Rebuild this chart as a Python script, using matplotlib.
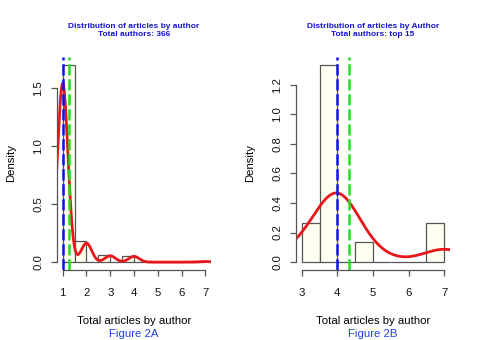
import numpy as np
import matplotlib
matplotlib.use("Agg")
import matplotlib.pyplot as plt

plt.rcParams['font.family'] = ['Liberation Sans', 'DejaVu Sans']

# articles per author -> number of authors
articles_a = [1, 2, 3, 4, 7]
authors_a = [311, 33, 11, 10, 1]
articles_b = [3, 4, 5, 7]
authors_b = [2, 10, 1, 2]

titles = ["Distribution of articles by author\nTotal authors: 366",
          "Distribution of articles by Author\nTotal authors: top 15"]
captions = ["Figure 2A", "Figure 2B"]
yticks_a = [0.0, 0.5, 1.0, 1.5]
yticks_b = [0.0, 0.2, 0.4, 0.6, 0.8, 1.0, 1.2]
bw_a, bw_b = 0.22, 0.615

AXIS_COL = "#555555"


def r_hist(vals, counts, width=0.5):
    # right-closed bins like R's hist()
    vals = np.asarray(vals, float)
    counts = np.asarray(counts, float)
    edges = np.arange(vals.min(), vals.max() + width / 2, width)
    idx = np.searchsorted(edges, vals, side="left") - 1
    idx = np.clip(idx, 0, len(edges) - 2)
    dens = np.zeros(len(edges) - 1)
    np.add.at(dens, idx, counts)
    dens /= counts.sum() * width
    return edges, dens


def kde(vals, counts, bw):
    vals = np.asarray(vals, float)
    w = np.asarray(counts, float) / np.sum(counts)
    xs = np.linspace(vals.min() - 3 * bw, vals.max() + 3 * bw, 512)
    z = (xs[:, None] - vals[None, :]) / bw
    ys = (np.exp(-0.5 * z ** 2) / (bw * np.sqrt(2 * np.pi)) * w).sum(axis=1)
    return xs, ys


def panel(ax, vals, counts, bw, title, caption, yticks):
    edges, dens = r_hist(vals, counts)
    ax.bar(edges[:-1], dens, width=0.5, align="edge", color="#fffff0",
           edgecolor=AXIS_COL, linewidth=0.9)
    xs, ys = kde(vals, counts, bw)
    ax.plot(xs, ys, color="#e8161b", lw=2.0)
    expanded = np.repeat(vals, counts)
    ax.axvline(np.median(expanded), color="#1010f0", lw=1.8, ls=(0, (4.5, 1.5)))
    ax.axvline(expanded.mean(), color="#20e020", lw=1.8, ls=(0, (4.5, 1.5)))

    lo, hi = min(vals), max(vals)
    pad = 0.04 * (hi - lo)
    ax.set_xlim(lo - pad, hi + pad)
    ymax = dens.max()
    ax.set_ylim(-0.04 * ymax, ymax * 1.04)

    for s in ("top", "right"):
        ax.spines[s].set_visible(False)
    for s in ("left", "bottom"):
        ax.spines[s].set_color(AXIS_COL)
        ax.spines[s].set_linewidth(0.9)
    ax.spines["bottom"].set_bounds(lo, hi)
    ax.spines["left"].set_bounds(yticks[0], yticks[-1])
    ax.set_xticks(range(int(lo), int(hi) + 1))
    ax.set_yticks(yticks)
    ax.set_yticklabels([f"{t:.1f}" for t in yticks], rotation=90, va="center")
    ax.tick_params(colors=AXIS_COL, labelcolor="#111111", labelsize=8.2,
                   length=4, width=0.9)
    ax.tick_params(axis="x", pad=9)
    ax.tick_params(axis="y", pad=6)
    ax.set_ylabel("Density", fontsize=8.2, labelpad=12)
    ax.set_xlabel("Total articles by author", fontsize=8.2, labelpad=13)
    ax.set_title(title, fontsize=6.0, fontweight="bold", color="#1414d8",
                 pad=15, linespacing=1.2)
    ax.text(0.5, -0.3, caption, transform=ax.transAxes, ha="center",
            va="center", fontsize=8.2, color="#2040e0")


fig = plt.figure(figsize=(4.78, 3.40), dpi=100)
ax1 = fig.add_axes([57 / 478, 70 / 340, 154 / 478, 213 / 340])
ax2 = fig.add_axes([296 / 478, 70 / 340, 154 / 478, 213 / 340])

panel(ax1, articles_a, authors_a, bw_a, titles[0], captions[0], yticks_a)
panel(ax2, articles_b, authors_b, bw_b, titles[1], captions[1], yticks_b)

fig.savefig("out.png", dpi=100)
